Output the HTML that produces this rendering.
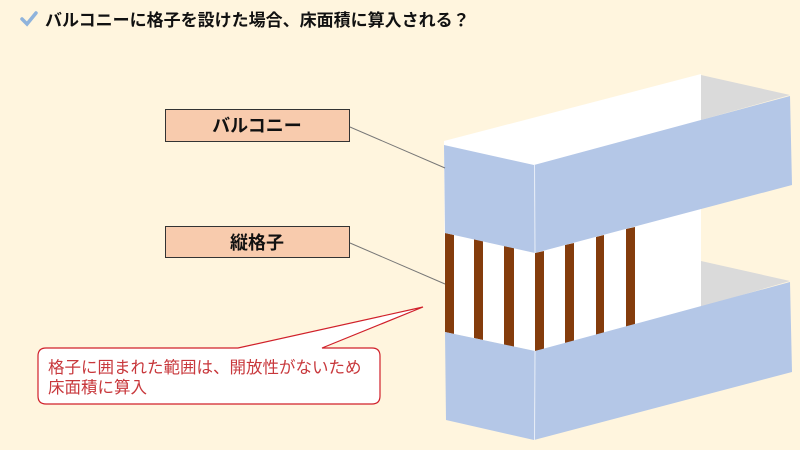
<!DOCTYPE html>
<html><head><meta charset="utf-8"><style>
html,body{margin:0;padding:0;}
body{width:800px;height:450px;background:#fff5de;overflow:hidden;position:relative;font-family:"Liberation Sans","Noto Sans CJK JP",sans-serif;}
</style></head><body>
<svg width="800" height="450" style="position:absolute;left:0;top:0" font-family="Liberation Sans, Noto Sans CJK JP, sans-serif">
<path d="M22 19 L27 24 L36 13" stroke="#8fb3dc" stroke-width="3.5" fill="none" stroke-linecap="round"/>
<text x="45" y="26" font-size="17" font-weight="bold" fill="#111">バルコニーに格子を設けた場合、床面積に算入される？</text>
<polygon points="444,141 701,74 701,310 535,351 445,332" fill="#fff"/>
<polygon points="701,75 790,95 701,120" fill="#dadada"/>
<polygon points="701,261 790,281 701,307" fill="#dadada"/>
<g fill="#843c0c">
<polygon points="445,233 454,235 454,334 445,332"/>
<polygon points="474,239 483,241 483,340 474,338"/>
<polygon points="504,246 514,248 514,347 504,345"/>
<polygon points="535,253 544,251 544,349 535,351"/>
<polygon points="565,245 574,243 574,341 565,343"/>
<polygon points="596,237 604,235 604,333 596,335"/>
<polygon points="626,229 635,227 635,325 626,327"/>
</g>
<polygon points="444,145 534,165 535,253 445,233" fill="#b4c7e7"/>
<polygon points="534,165 790,96 792,185 535,253" fill="#b4c7e7"/>
<line x1="534.5" y1="165" x2="535" y2="253" stroke="#e8eef8" stroke-width="1"/>
<polygon points="445,332 535,351 534,440 446,420" fill="#b4c7e7"/>
<polygon points="535,351 790,282 792,372 534,440" fill="#b4c7e7"/>
<line x1="535" y1="351" x2="534.5" y2="440" stroke="#e8eef8" stroke-width="1"/>
<rect x="165.5" y="109.5" width="184" height="32" fill="#f8cbad" stroke="#333" stroke-width="1"/>
<text x="257" y="132" font-size="18" font-weight="bold" text-anchor="middle" fill="#111">バルコニー</text>
<rect x="165.5" y="226.5" width="184" height="31" fill="#f8cbad" stroke="#333" stroke-width="1"/>
<text x="257" y="249" font-size="18" font-weight="bold" text-anchor="middle" fill="#111">縦格子</text>
<line x1="350" y1="127" x2="445" y2="168" stroke="#777" stroke-width="1"/>
<line x1="350" y1="243" x2="445" y2="284" stroke="#777" stroke-width="1"/>
<path d="M46 348 L238 348 L423 307 L322 348 L372 348 Q380 348 380 356 L380 396 Q380 404 372 404 L46 404 Q38 404 38 396 L38 356 Q38 348 46 348 Z" fill="#fff" stroke="#d0202a" stroke-width="1.2"/>
<text x="48" y="373" font-size="16.5" fill="#c8383c">格子に囲まれた範囲は、開放性がないため</text>
<text x="48" y="393" font-size="16.5" fill="#c8383c">床面積に算入</text>
</svg>
</body></html>
